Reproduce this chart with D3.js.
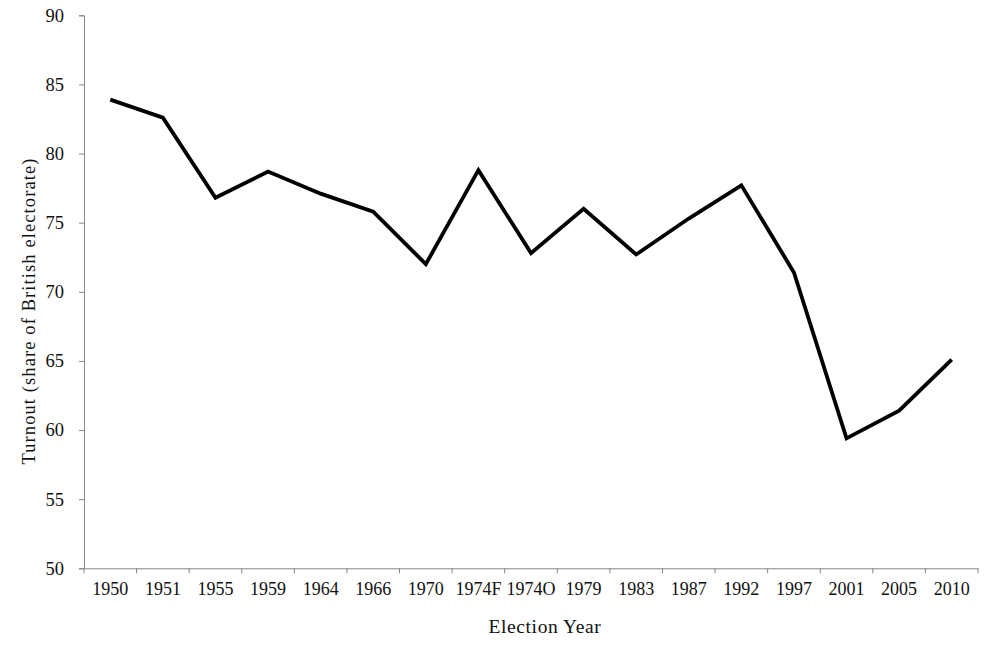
<!DOCTYPE html>
<html>
<head>
<meta charset="utf-8">
<script src="https://cdn.jsdelivr.net/npm/d3@7"></script>
<style>
  html, body { margin: 0; padding: 0; background: #fff; }
  svg { display: block; }
  text { font-family: "Liberation Serif", "DejaVu Serif", serif; fill: #111; }
</style>
</head>
<body>
<svg id="chart" width="989" height="647"></svg>
<script>
const categories = ["1950","1951","1955","1959","1964","1966","1970","1974F","1974O","1979","1983","1987","1992","1997","2001","2005","2010"];
const turnout = [83.9, 82.6, 76.8, 78.7, 77.1, 75.8, 72.0, 78.8, 72.8, 76.0, 72.7, 75.3, 77.7, 71.4, 59.4, 61.4, 65.1];
const yTicks = [50, 55, 60, 65, 70, 75, 80, 85, 90];
const xTitle = "Election Year";
const yTitle = "Turnout (share of British electorate)";

const svg = d3.select("#chart");
const plotLeft = 84, plotRight = 978, plotTop = 15.3, plotBottom = 568.3;

const x = d3.scaleBand().domain(categories).range([plotLeft, plotRight]).paddingInner(0).paddingOuter(0);
const y = d3.scaleLinear().domain([50, 90]).range([plotBottom, plotTop]);

// Y axis
const yAxis = svg.append("g").attr("transform", `translate(${plotLeft},0)`)
  .call(d3.axisLeft(y).tickValues(yTicks).tickSize(5).tickPadding(15).tickFormat(d3.format("d")));
yAxis.select(".domain").attr("stroke", "#868686").attr("stroke-width", 1);
yAxis.selectAll(".tick line").attr("stroke", "#868686");
yAxis.selectAll(".tick text").attr("font-size", 18.5).attr("fill", "#111")
  .attr("font-family", "Liberation Serif, serif");

// X axis
const xAxis = svg.append("g").attr("transform", `translate(0,${plotBottom})`)
  .call(d3.axisBottom(x).tickSize(0).tickPadding(14));
xAxis.select(".domain").attr("stroke", "#868686").attr("stroke-width", 1);
xAxis.selectAll(".tick text").attr("font-size", 18).attr("fill", "#111")
  .attr("font-family", "Liberation Serif, serif");
// boundary tick marks between categories
const bounds = categories.map(c => x(c)).concat([x(categories[categories.length - 1]) + x.bandwidth()]);
xAxis.selectAll(".bound").data(bounds).enter().append("line")
  .attr("class", "bound")
  .attr("x1", d => d).attr("x2", d => d)
  .attr("y1", 0).attr("y2", 5)
  .attr("stroke", "#868686").attr("stroke-width", 1);

// Line
const line = d3.line()
  .x((d, i) => x(categories[i]) + x.bandwidth() / 2)
  .y(d => y(d));
svg.append("path").datum(turnout)
  .attr("d", line)
  .attr("fill", "none")
  .attr("stroke", "#000")
  .attr("stroke-width", 3.8)
  .attr("stroke-linejoin", "miter");

// Titles
svg.append("text")
  .attr("x", 545).attr("y", 633)
  .attr("text-anchor", "middle").attr("font-size", 19.5)
  .attr("letter-spacing", 0.6)
  .text(xTitle);
svg.append("text")
  .attr("transform", "translate(35,311) rotate(-90)")
  .attr("text-anchor", "middle").attr("font-size", 18.5)
  .attr("letter-spacing", 1.1)
  .text(yTitle);
</script>
</body>
</html>
